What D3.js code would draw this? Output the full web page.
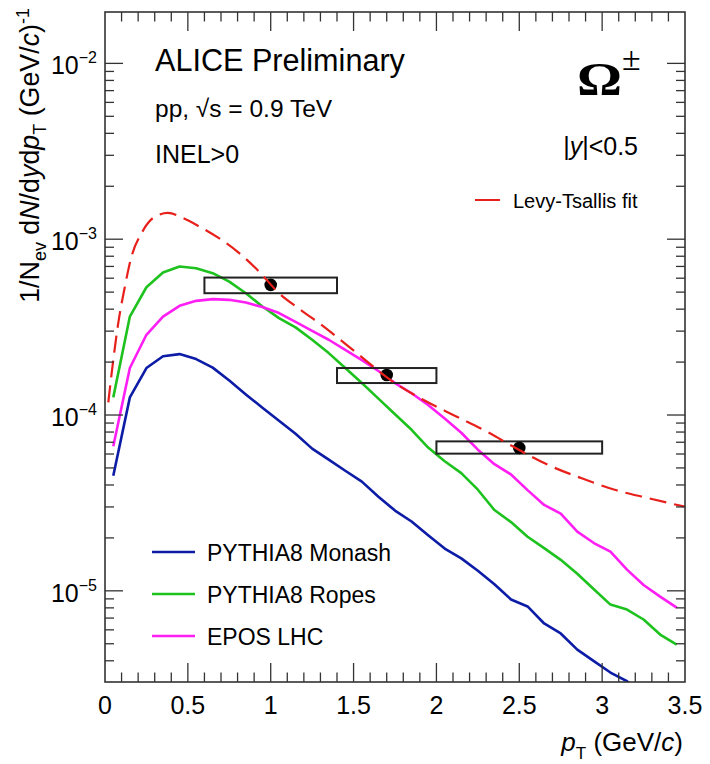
<!DOCTYPE html>
<html>
<head>
<meta charset="utf-8">
<script src="https://cdn.jsdelivr.net/npm/d3@7"></script>
<style>
  body { margin: 0; background: #fff; }
  text { font-family: "Liberation Sans", Arial, Helvetica, sans-serif; fill: #000; }
</style>
</head>
<body>
<svg id="chart" width="710" height="764"></svg>
<script>
// Transverse-momentum bin centres of the model histograms (GeV/c)
const pT = [0.05, 0.15, 0.25, 0.35, 0.45, 0.55, 0.65, 0.75, 0.85, 0.95,
            1.05, 1.15, 1.25, 1.35, 1.45, 1.55, 1.65, 1.75, 1.85, 1.95,
            2.05, 2.15, 2.25, 2.35, 2.45, 2.55, 2.65, 2.75, 2.85, 2.95,
            3.05, 3.15, 3.25, 3.35, 3.45];

// PYTHIA8 Monash
const monash = [4.52e-5, 1.26e-4, 1.85e-4, 2.16e-4, 2.22e-4, 2.08e-4, 1.86e-4, 1.57e-4, 1.31e-4, 1.10e-4,
                9.28e-5, 7.83e-5, 6.44e-5, 5.57e-5, 4.82e-5, 4.18e-5, 3.43e-5, 2.86e-5, 2.48e-5, 2.07e-5,
                1.74e-5, 1.53e-5, 1.30e-5, 1.09e-5, 8.93e-6, 8.15e-6, 6.52e-6, 5.72e-6, 4.63e-6, 3.98e-6,
                3.43e-6, 3.06e-6, 2.6e-6, 2.2e-6, 1.9e-6];

// PYTHIA8 Ropes
const ropes = [1.26e-4, 3.63e-4, 5.33e-4, 6.46e-4, 6.99e-4, 6.84e-4, 6.41e-4, 5.74e-4, 4.93e-4, 4.14e-4,
               3.56e-4, 3.15e-4, 2.68e-4, 2.25e-4, 1.85e-4, 1.52e-4, 1.24e-4, 1.01e-4, 8.24e-5, 6.53e-5,
               5.46e-5, 4.67e-5, 3.76e-5, 2.88e-5, 2.46e-5, 2.03e-5, 1.75e-5, 1.50e-5, 1.25e-5, 1.02e-5,
               8.35e-6, 7.82e-6, 6.87e-6, 5.64e-6, 4.94e-6];

// EPOS LHC
const epos = [6.64e-5, 1.85e-4, 2.86e-4, 3.63e-4, 4.18e-4, 4.46e-4, 4.56e-4, 4.52e-4, 4.36e-4, 4.11e-4,
              3.80e-4, 3.39e-4, 3.01e-4, 2.68e-4, 2.35e-4, 2.05e-4, 1.78e-4, 1.52e-4, 1.33e-4, 1.14e-4,
              9.54e-5, 7.93e-5, 6.35e-5, 5.25e-5, 4.59e-5, 3.74e-5, 3.08e-5, 2.75e-5, 2.17e-5, 1.87e-5,
              1.67e-5, 1.32e-5, 1.08e-5, 9.27e-6, 8.02e-6];

// Levy-Tsallis fit curve, sampled
const fitPt  = [0.02, 0.05, 0.08, 0.12, 0.16, 0.22, 0.29, 0.38, 0.47, 0.57, 0.69, 0.81, 0.93, 1.05, 1.18,
                1.32, 1.52, 1.72, 1.92, 2.12, 2.32, 2.46, 2.67, 2.87, 3.07, 3.27, 3.50];
const fitVal = [1.18e-4, 2.06e-4, 3.33e-4, 5.38e-4, 7.97e-4, 1.08e-3, 1.32e-3, 1.41e-3, 1.32e-3, 1.18e-3,
                1.01e-3, 8.33e-4, 6.54e-4, 4.93e-4, 3.97e-4, 3.18e-4, 2.25e-4, 1.59e-4, 1.22e-4, 9.82e-5,
                7.90e-5, 6.64e-5, 5.22e-5, 4.39e-5, 3.77e-5, 3.38e-5, 3.01e-5];

// Measured Omega yields with systematic boxes
const dataPt   = [1.0, 1.7, 2.5];
const dataVal  = [5.5e-4, 1.69e-4, 6.5e-5];
const binLow   = [0.6, 1.4, 2.0];
const binHigh  = [1.4, 2.0, 3.0];
const sysLow   = [4.93e-4, 1.52e-4, 6.03e-5];
const sysHigh  = [6.05e-4, 1.85e-4, 7.08e-5];

// Axis tick labels
const xTickValues = [0, 0.5, 1, 1.5, 2, 2.5, 3, 3.5];
const xTickLabels = ["0", "0.5", "1", "1.5", "2", "2.5", "3", "3.5"];
const yDecades = [1e-5, 1e-4, 1e-3, 1e-2];
const yExponents = ["\u22125", "\u22124", "\u22123", "\u22122"];

const modelNames  = ["PYTHIA8 Monash", "PYTHIA8 Ropes", "EPOS LHC"];
const modelColors = ["#0c1ca6", "#1ec21e", "#ff1ff4"];
const fitColor = "#e8201c";

const svg = d3.select("#chart");
const L = 105, R = 685, T = 12, B = 682;

const x = d3.scaleLinear().domain([0, 3.5]).range([L, R]);
const y = d3.scaleLog().domain([3.03e-6, 0.0196]).range([B, T]);

svg.append("rect").attr("width", 710).attr("height", 764).attr("fill", "#fff");

svg.append("clipPath").attr("id", "plotclip")
  .append("rect").attr("x", L).attr("y", T).attr("width", R - L).attr("height", B - T);

const plot = svg.append("g").attr("clip-path", "url(#plotclip)");

// Model curves
const line = d3.line().x(d => x(d[0])).y(d => y(d[1]));
[monash, ropes, epos].forEach((vals, i) => {
  plot.append("path")
    .datum(pT.map((p, k) => [p, vals[k]]))
    .attr("d", line)
    .attr("fill", "none")
    .attr("stroke", modelColors[i])
    .attr("stroke-width", 2.6)
    .attr("stroke-linejoin", "round");
});

// Systematic boxes
plot.selectAll("rect.sys")
  .data(dataPt.map((p, i) => i))
  .join("rect")
  .attr("class", "sys")
  .attr("x", i => x(binLow[i]))
  .attr("width", i => x(binHigh[i]) - x(binLow[i]))
  .attr("y", i => y(sysHigh[i]))
  .attr("height", i => y(sysLow[i]) - y(sysHigh[i]))
  .attr("fill", "none")
  .attr("stroke", "#222")
  .attr("stroke-width", 2);

// Data points
plot.selectAll("circle.pt")
  .data(dataPt.map((p, i) => [p, dataVal[i]]))
  .join("circle")
  .attr("class", "pt")
  .attr("cx", d => x(d[0]))
  .attr("cy", d => y(d[1]))
  .attr("r", 6.3)
  .attr("fill", "#000");

// Fit curve
const fitLine = d3.line().x(d => x(d[0])).y(d => y(d[1])).curve(d3.curveMonotoneX);
plot.append("path")
  .datum(fitPt.map((p, k) => [p, fitVal[k]]))
  .attr("d", fitLine)
  .attr("fill", "none")
  .attr("stroke", fitColor)
  .attr("stroke-width", 2.2)
  .attr("stroke-dasharray", "17,8");

// Frame
svg.append("rect")
  .attr("x", L).attr("y", T).attr("width", R - L).attr("height", B - T)
  .attr("fill", "none").attr("stroke", "#333").attr("stroke-width", 1.6);

// Ticks (inside the frame on all four sides)
const ticks = svg.append("g").attr("stroke", "#333").attr("stroke-width", 1.3);
const xMinor = d3.range(1, 35).map(k => k / 10);
xMinor.forEach(v => {
  const major = Math.abs(v * 2 - Math.round(v * 2)) < 1e-6;
  const len = major ? 19 : 9.5;
  ticks.append("line").attr("x1", x(v)).attr("x2", x(v)).attr("y1", B).attr("y2", B - len);
  ticks.append("line").attr("x1", x(v)).attr("x2", x(v)).attr("y1", T).attr("y2", T + len);
});
const yTickVals = [];
[-6, -5, -4, -3, -2].forEach(e => {
  for (let m = 1; m <= 9; m++) {
    const v = m * Math.pow(10, e);
    if (v >= y.domain()[0] && v <= y.domain()[1]) yTickVals.push([v, m === 1]);
  }
});
yTickVals.forEach(([v, major]) => {
  const len = major ? 18 : 9;
  ticks.append("line").attr("x1", L).attr("x2", L + len).attr("y1", y(v)).attr("y2", y(v));
  ticks.append("line").attr("x1", R).attr("x2", R - len).attr("y1", y(v)).attr("y2", y(v));
});

// X tick labels
svg.append("g").selectAll("text")
  .data(xTickValues)
  .join("text")
  .attr("x", d => x(d))
  .attr("y", 714)
  .attr("text-anchor", "middle")
  .attr("font-size", 25)
  .text((d, i) => xTickLabels[i]);

// Y tick labels 10^n
yDecades.forEach((v, i) => {
  const t = svg.append("text")
    .attr("x", 97).attr("y", y(v) + 11)
    .attr("text-anchor", "end")
    .attr("font-size", 25);
  t.append("tspan").text("10");
  t.append("tspan").attr("dy", -11).attr("font-size", 16).text(yExponents[i]);
});

// X axis title
const xt = svg.append("text").attr("x", 683).attr("y", 751)
  .attr("text-anchor", "end").attr("font-size", 26);
xt.append("tspan").attr("font-style", "italic").text("p");
xt.append("tspan").attr("dy", 8).attr("font-size", 17).text("T");
xt.append("tspan").attr("dy", -8).text(" (GeV/");
xt.append("tspan").attr("font-style", "italic").text("c");
xt.append("tspan").text(")");

// Y axis title
const yt = svg.append("text")
  .attr("transform", "translate(39,8) rotate(-90)")
  .attr("text-anchor", "end").attr("font-size", 26.8);
yt.append("tspan").text("1/N");
yt.append("tspan").attr("dy", 7).attr("font-size", 18).text("ev");
yt.append("tspan").attr("dy", -7).text(" d");
yt.append("tspan").attr("font-style", "italic").text("N");
yt.append("tspan").text("/d");
yt.append("tspan").attr("font-style", "italic").text("y");
yt.append("tspan").text("d");
yt.append("tspan").attr("font-style", "italic").text("p");
yt.append("tspan").attr("dy", 7).attr("font-size", 18).text("T");
yt.append("tspan").attr("dy", -7).text("  (GeV/");
yt.append("tspan").attr("font-style", "italic").text("c");
yt.append("tspan").text(")");
yt.append("tspan").attr("dy", -10).attr("font-size", 18).text("-1");

// Header labels
svg.append("text").attr("x", 155).attr("y", 71).attr("font-size", 30.6).text("ALICE Preliminary");
svg.append("text").attr("x", 155).attr("y", 117).attr("font-size", 24.5).text("pp, \u221As = 0.9 TeV");
svg.append("text").attr("x", 155).attr("y", 163).attr("font-size", 25).text("INEL>0");

const serif = "'Liberation Serif', 'DejaVu Serif', serif";
svg.append("text").attr("x", 577).attr("y", 95)
  .style("font-family", serif).attr("font-size", 46).attr("font-weight", "bold")
  .attr("textLength", 45).attr("lengthAdjust", "spacingAndGlyphs")
  .text("\u03A9");
svg.append("text").attr("x", 622).attr("y", 70)
  .style("font-family", serif).attr("font-size", 34)
  .text("\u00B1");

const yr = svg.append("text").attr("x", 638).attr("y", 155).attr("text-anchor", "end").attr("font-size", 25);
yr.append("tspan").text("|");
yr.append("tspan").attr("font-style", "italic").text("y");
yr.append("tspan").text("|<0.5");

// Fit legend
svg.append("line").attr("x1", 475).attr("x2", 500).attr("y1", 200).attr("y2", 200)
  .attr("stroke", fitColor).attr("stroke-width", 2);
svg.append("text").attr("x", 513).attr("y", 208).attr("font-size", 20).text("Levy-Tsallis fit");

// Model legend
const legY = [552, 594, 636];
modelNames.forEach((name, i) => {
  svg.append("line").attr("x1", 152).attr("x2", 195).attr("y1", legY[i]).attr("y2", legY[i])
    .attr("stroke", modelColors[i]).attr("stroke-width", 2.6);
  svg.append("text").attr("x", 207).attr("y", legY[i] + 9).attr("font-size", 23).text(name);
});
</script>
</body>
</html>
